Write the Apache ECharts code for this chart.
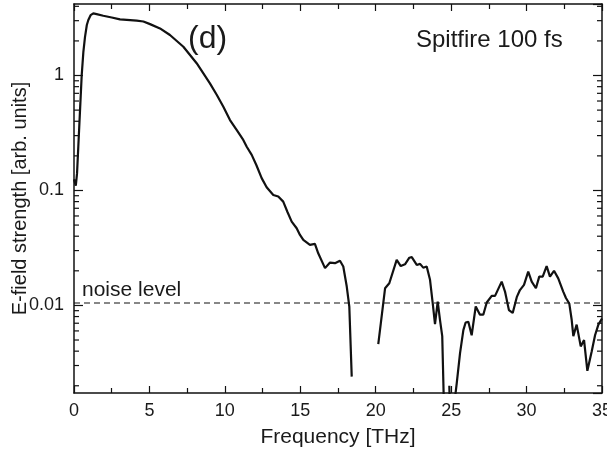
<!DOCTYPE html>
<html>
<head>
<meta charset="utf-8">
<script src="https://cdn.jsdelivr.net/npm/echarts@6/dist/echarts.min.js"></script>
<style>
html,body{margin:0;padding:0;background:#fff;}
#chart{width:607px;height:451px;}
</style>
</head>
<body>
<div id="chart"></div>
<script>
// ---- data ----
var seg1Freq = [0, 0.12, 0.2, 0.285, 0.4, 0.51, 0.62, 0.73, 0.85, 0.95, 1.1, 1.28, 1.5, 1.94, 2.5, 3.05, 3.5, 4.16, 4.6, 5.04, 5.7, 6.36, 7.25, 8.13, 9.01, 9.46, 9.9, 10.34, 10.78, 11.22, 11.45, 11.78, 12.1, 12.44, 12.77, 13.21, 13.54, 13.87, 14.15, 14.43, 14.76, 14.98, 15.2, 15.64, 15.97, 16.19, 16.64, 16.97, 17.3, 17.63, 17.85, 18.08, 18.25, 18.41];
var seg1Field = [0.125, 0.11, 0.14, 0.24, 0.5, 1.0, 1.6, 2.17, 2.75, 3.04, 3.35, 3.47, 3.42, 3.31, 3.2, 3.08, 3.05, 3.0, 2.95, 2.8, 2.57, 2.25, 1.78, 1.28, 0.855, 0.68, 0.535, 0.41, 0.336, 0.275, 0.24, 0.204, 0.165, 0.128, 0.1066, 0.0914, 0.0885, 0.08, 0.065, 0.0536, 0.0469, 0.041, 0.0371, 0.0336, 0.0343, 0.0284, 0.0211, 0.0236, 0.0233, 0.0245, 0.0218, 0.0146, 0.00976, 0.0024];

var seg2Freq = [20.17, 20.62, 20.9, 21.39, 21.66, 21.94, 22.23, 22.39, 22.72, 22.94, 23.15, 23.38, 23.6, 23.78, 23.93, 24.11, 24.26, 24.41, 24.53];
var seg2Field = [0.0046, 0.0141, 0.0156, 0.0249, 0.022, 0.0228, 0.026, 0.0263, 0.0225, 0.023, 0.0213, 0.0218, 0.0167, 0.0104, 0.00687, 0.0108, 0.0075, 0.0054, 0.0012];

var seg3Freq = [24.88, 24.92, 25.15, 25.37, 25.59, 25.81, 25.96, 26.14, 26.36, 26.63, 26.91, 27.13, 27.36, 27.69, 27.91, 28.35, 28.57, 28.83, 29.08, 29.35, 29.56, 29.83, 30.11, 30.34, 30.62, 30.84, 31.07, 31.33, 31.55, 31.82, 32.1, 32.43, 32.61, 32.83, 32.99, 33.1, 33.32, 33.59, 33.81, 34.03, 34.32, 34.54, 34.76, 35];
var seg3Field = [0.002, 0.0012, 0.0012, 0.0021, 0.00384, 0.0061, 0.0071, 0.0072, 0.0055, 0.0098, 0.0083, 0.0083, 0.0106, 0.0121, 0.0121, 0.0161, 0.0132, 0.0091, 0.0086, 0.0118, 0.0136, 0.0151, 0.0197, 0.0161, 0.0141, 0.0178, 0.0178, 0.022, 0.0178, 0.02, 0.0172, 0.0132, 0.0116, 0.0104, 0.0075, 0.0054, 0.0068, 0.0044, 0.005, 0.0027, 0.004, 0.0055, 0.0068, 0.0077];

var noiseLevel = 0.0105;
var freqRange = [0, 35];
var fieldRange = [0.00173, 4.19];
var xTickLabels = [0, 5, 10, 15, 20, 25, 30, 35];
var yTickLabels = [0.01, 0.1, 1];
var yMinorTicks = [0.002, 0.003, 0.004, 0.005, 0.006, 0.007, 0.008, 0.009,
                   0.02, 0.03, 0.04, 0.05, 0.06, 0.07, 0.08, 0.09,
                   0.2, 0.3, 0.4, 0.5, 0.6, 0.7, 0.8, 0.9,
                   2, 3, 4];

// ---- build series data ----
function zip(a, b) { return a.map(function (v, i) { return [v, b[i]]; }); }
var curve = zip(seg1Freq, seg1Field).concat([[19.3, null]], zip(seg2Freq, seg2Field), [[24.7, null]], zip(seg3Freq, seg3Field));

var FONT = '"Liberation Sans", Arial, sans-serif';
var TXT = '#1a1a1a';

function isLabelValue(v) {
  for (var i = 0; i < yTickLabels.length; i++) {
    if (Math.abs(v - yTickLabels[i]) / yTickLabels[i] < 1e-6) return true;
  }
  return false;
}

var chart = echarts.init(document.getElementById('chart'), null, {renderer: 'canvas'});
var option = {
  animation: false,
  backgroundColor: '#fff',
  grid: {left: 74, right: 5, top: 4, bottom: 58, show: false, containLabel: false, outerBoundsMode: 'none'},
  xAxis: [{
    type: 'value', min: freqRange[0], max: freqRange[1], interval: 5,
    name: 'Frequency [THz]', nameLocation: 'middle', nameGap: 34, nameMoveOverlap: false,
    nameTextStyle: {fontFamily: FONT, fontSize: 21, color: TXT},
    axisLine: {show: true, onZero: false, lineStyle: {color: '#111', width: 1.5}},
    axisTick: {show: true, inside: true, length: 7, lineStyle: {color: '#111', width: 1.2}},
    minorTick: {show: true, splitNumber: 2, length: 5, lineStyle: {color: '#111', width: 1.2}},
    axisLabel: {margin: 9, fontFamily: FONT, fontSize: 18, color: TXT,
      formatter: function (v) { return xTickLabels.indexOf(v) >= 0 ? String(v) : ''; }},
    splitLine: {show: false}
  }, {
    type: 'value', position: 'top', min: freqRange[0], max: freqRange[1], interval: 5,
    axisLine: {show: true, onZero: false, lineStyle: {color: '#111', width: 1.5}},
    axisTick: {show: true, inside: true, length: 7, lineStyle: {color: '#111', width: 1.2}},
    minorTick: {show: true, splitNumber: 2, length: 5, lineStyle: {color: '#111', width: 1.2}},
    axisLabel: {show: false}, splitLine: {show: false}
  }],
  yAxis: [{
    type: 'log', logBase: 10, min: fieldRange[0], max: fieldRange[1],
    name: 'E-field strength [arb. units]', nameLocation: 'middle', nameGap: 44, nameMoveOverlap: false,
    nameTextStyle: {fontFamily: FONT, fontSize: 20, color: TXT},
    axisLine: {show: true, onZero: false, lineStyle: {color: '#111', width: 1.5}},
    axisTick: {show: true, inside: true, length: 9, lineStyle: {color: '#111', width: 1.2}},
    axisLabel: {margin: 10, fontFamily: FONT, fontSize: 18, color: TXT,
      showMinLabel: false, showMaxLabel: false,
      formatter: function (v) { return isLabelValue(v) ? String(+v.toPrecision(6)) : ''; }},
    splitLine: {show: false}
  }, {
    type: 'log', logBase: 10, min: fieldRange[0], max: fieldRange[1], position: 'right',
    axisLine: {show: true, onZero: false, lineStyle: {color: '#111', width: 1.5}},
    axisTick: {show: true, inside: true, length: 9, lineStyle: {color: '#111', width: 1.2}},
    axisLabel: {show: false}, splitLine: {show: false}
  }],
  series: [{
    type: 'line', data: curve, showSymbol: false, connectNulls: false,
    xAxisIndex: 0, yAxisIndex: 0, clip: true,
    lineStyle: {color: '#111', width: 2.2}, z: 5
  }, {
    type: 'line', data: [[freqRange[0], noiseLevel], [freqRange[1], noiseLevel]],
    showSymbol: false, xAxisIndex: 0, yAxisIndex: 0,
    lineStyle: {color: '#111', width: 1.2, type: [6, 4]}, z: 4
  }, {
    type: 'custom', xAxisIndex: 0, yAxisIndex: 0, silent: true, clip: false,
    data: yMinorTicks.map(function (v) { return [freqRange[0], v]; }),
    encode: {x: 0, y: 1},
    renderItem: function (params, api) {
      var v = api.value(1);
      var pL = api.coord([freqRange[0], v]);
      var pR = api.coord([freqRange[1], v]);
      var style = {stroke: '#111', lineWidth: 1.2};
      return {type: 'group', children: [
        {type: 'line', shape: {x1: pL[0], y1: pL[1], x2: pL[0] + 5, y2: pL[1]}, style: style},
        {type: 'line', shape: {x1: pR[0], y1: pR[1], x2: pR[0] - 5, y2: pR[1]}, style: style}
      ]};
    }
  }],
  graphic: [
    {type: 'text', left: 188, top: 23, style: {text: '(d)', fontFamily: FONT, fontSize: 32, fill: TXT}},
    {type: 'text', left: 416, top: 28, style: {text: 'Spitfire 100 fs', fontFamily: FONT, fontSize: 24, fill: TXT}},
    {type: 'text', left: 82, top: 280, style: {text: 'noise level', fontFamily: FONT, fontSize: 21, fill: TXT}}
  ]
};
chart.setOption(option);
</script>
</body>
</html>
